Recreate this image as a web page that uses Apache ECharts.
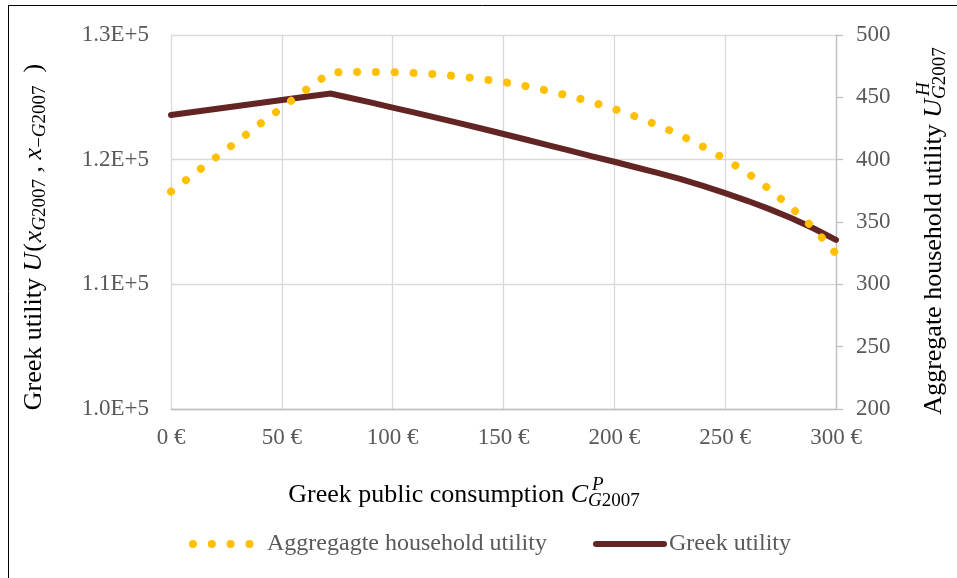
<!DOCTYPE html>
<html>
<head>
<meta charset="utf-8">
<script src="https://cdn.jsdelivr.net/npm/echarts@6/dist/echarts.min.js"></script>
<style>
  html, body { margin: 0; padding: 0; background: #ffffff; }
  #chart { width: 957px; height: 578px; }
</style>
</head>
<body>
<div id="chart"></div>
<script>
// Greek public consumption (EUR) at which both utilities are evaluated
const consumption = [0, 10, 20, 30, 40, 50, 60, 72, 80, 90, 100, 110, 120, 130, 140, 150,
  160, 170, 180, 190, 200, 210, 220, 230, 240, 250, 260, 270, 280, 290, 300];

// Aggregate household utility (right axis)
const householdUtility = [374.4, 388, 401.5, 414.8, 428.5, 441.6, 455, 470, 470.3, 470.4, 470.2,
  469.5, 468.5, 466.8, 464.7, 462.3, 459, 455.3, 451, 446.1, 440.6, 434.3, 427.3, 419.5,
  410.4, 400.4, 389.4, 376.3, 361.3, 344.9, 324.5];

// Greek utility (left axis)
const greekUtility = [123580, 123820, 124060, 124300, 124540, 124780, 125030, 125310, 124990,
  124590, 124180, 123770, 123350, 122930, 122500, 122060, 121620, 121170, 120720, 120270,
  119830, 119370, 118920, 118440, 117900, 117320, 116700, 116030, 115300, 114480, 113560];

// Axis tick values and their labels
const xTickValues = [0, 50, 100, 150, 200, 250, 300];
const xTickLabels = ['0 €', '50 €', '100 €', '150 €', '200 €', '250 €', '300 €'];
const leftTickValues = [100000, 110000, 120000, 130000];
const leftTickLabels = ['1.0E+5', '1.1E+5', '1.2E+5', '1.3E+5'];
const rightTickValues = [200, 250, 300, 350, 400, 450, 500];
const rightTickLabels = ['200', '250', '300', '350', '400', '450', '500'];

const seriesNames = ['Aggregagte household utility', 'Greek utility'];

const SERIF = '"Liberation Serif", "Times New Roman", serif';
const GREY = '#595959';
const GRID = '#d9d9d9';
const AXIS = '#bfbfbf';

function pick(values, labels) {
  return function (v) {
    const i = values.indexOf(v);
    return i >= 0 ? labels[i] : '';
  };
}

// Text measuring for the composed (sub/superscript) axis titles
const measureCtx = document.createElement('canvas').getContext('2d');
function textWidth(t, size, italic) {
  measureCtx.font = (italic ? 'italic ' : '') + size + 'px ' + SERIF;
  return measureCtx.measureText(t).width;
}

// Builds a centred run of text pieces; pieces flagged "stack" do not advance the pen
function mathTitle(pieces, cx, cy, rotation) {
  let x = 0;
  const kids = [];
  pieces.forEach(function (p) {
    kids.push({
      type: 'text',
      x: x + (p.dx || 0),
      y: p.dy || 0,
      style: {
        text: p.t,
        fontSize: p.size,
        fontFamily: SERIF,
        fontStyle: p.italic ? 'italic' : 'normal',
        fill: '#000000',
        align: 'left',
        verticalAlign: 'middle'
      }
    });
    if (!p.stack) x += textWidth(p.t, p.size, p.italic) + (p.after || 0);
  });
  kids.forEach(function (k) { k.x -= x / 2; });
  return { type: 'group', x: cx, y: cy, rotation: rotation || 0, children: kids, silent: true };
}

const TS = 26;   // title size
const SS = 19;   // script size

const xTitle = mathTitle([
  { t: 'Greek public consumption ', size: TS },
  { t: 'C', size: TS, italic: true },
  { t: 'P', size: SS, italic: true, dy: -10, dx: 4, stack: true },
  { t: 'G', size: SS, italic: true, dy: 6 },
  { t: '2007', size: SS, dy: 6 }
], 464, 495, 0);

const leftTitle = mathTitle([
  { t: 'Greek utility ', size: TS },
  { t: 'U', size: TS, italic: true, after: 1 },
  { t: '(', size: TS, after: 1 },
  { t: 'x', size: TS, italic: true },
  { t: 'G', size: SS, italic: true, dy: 6 },
  { t: '2007', size: SS, dy: 6 },
  { t: ' , ', size: TS },
  { t: 'x', size: TS, italic: true },
  { t: '−', size: SS, dy: 6 },
  { t: 'G', size: SS, italic: true, dy: 6 },
  { t: '2007', size: SS, dy: 6 },
  { t: '  )', size: TS }
], 34, 237, Math.PI / 2);

const rightTitle = mathTitle([
  { t: 'Aggregate household utility ', size: TS },
  { t: 'U', size: TS, italic: true },
  { t: 'H', size: SS, italic: true, dy: -10, dx: 3, stack: true },
  { t: 'G', size: SS, italic: true, dy: 6 },
  { t: '2007', size: SS, dy: 6 }
], 934, 231, Math.PI / 2);

const chart = echarts.init(document.getElementById('chart'), null, { renderer: 'canvas' });

const legendText = { color: GREY, fontSize: 24, fontFamily: SERIF };

chart.setOption({
  animation: false,
  backgroundColor: '#ffffff',
  grid: { left: 171, right: 121, top: 35, bottom: 169, containLabel: false },
  xAxis: {
    type: 'value',
    min: 0, max: 300, interval: 50,
    axisLine: { show: true, lineStyle: { color: AXIS, width: 1.3 } },
    axisTick: { show: false },
    axisLabel: { formatter: pick(xTickValues, xTickLabels), color: GREY, fontSize: 23, fontFamily: SERIF, margin: 17 },
    splitLine: { show: true, lineStyle: { color: GRID, width: 1.3 } }
  },
  yAxis: [
    {
      type: 'value', position: 'left',
      min: 100000, max: 130000, interval: 10000,
      axisLine: { show: false }, axisTick: { show: false },
      axisLabel: { formatter: pick(leftTickValues, leftTickLabels), color: GREY, fontSize: 23, fontFamily: SERIF, margin: 22 },
      splitLine: { show: true, lineStyle: { color: GRID, width: 1.3 } }
    },
    {
      type: 'value', position: 'right',
      min: 200, max: 500, interval: 50,
      axisLine: { show: true, lineStyle: { color: AXIS, width: 1.3 } },
      axisTick: { show: true, inside: false, length: 7, lineStyle: { color: AXIS, width: 1.3 } },
      axisLabel: { formatter: pick(rightTickValues, rightTickLabels), color: GREY, fontSize: 23, fontFamily: SERIF, margin: 20 },
      splitLine: { show: false }
    }
  ],
  legend: [
    {
      data: [seriesNames[0]], left: 189, top: 532, padding: 0,
      itemWidth: 57, itemHeight: 8,
      lineStyle: { width: 8 },
      itemStyle: { opacity: 0 },
      textStyle: Object.assign({ padding: [0, 0, 0, 12] }, legendText),
      selectedMode: false
    },
    {
      data: [seriesNames[1]], left: 593, top: 532, padding: 0,
      itemWidth: 68, itemHeight: 8,
      lineStyle: { width: 6 },
      itemStyle: { opacity: 0 },
      textStyle: Object.assign({ padding: [0, 0, 0, 0] }, legendText),
      selectedMode: false
    }
  ],
  series: [
    {
      name: seriesNames[1],
      type: 'line',
      yAxisIndex: 0,
      data: consumption.map(function (c, i) { return [c, greekUtility[i]]; }),
      showSymbol: false, symbol: 'none',
      lineStyle: { color: '#632523', width: 6, cap: 'round', join: 'miter' },
      itemStyle: { color: '#632523' },
      z: 2
    },
    {
      name: seriesNames[0],
      type: 'line',
      yAxisIndex: 1,
      data: consumption.map(function (c, i) { return [c, householdUtility[i]]; }),
      showSymbol: false, symbol: 'none',
      lineStyle: { color: '#FFC000', width: 8, type: [0.01, 18.8], cap: 'round' },
      itemStyle: { color: '#FFC000' },
      z: 3
    }
  ],
  graphic: [
    { type: 'line', shape: { x1: 8, y1: 5.5, x2: 957, y2: 5.5 }, style: { stroke: '#000000', lineWidth: 1 }, silent: true },
    { type: 'line', shape: { x1: 8.5, y1: 5, x2: 8.5, y2: 578 }, style: { stroke: '#000000', lineWidth: 1 }, silent: true },
    xTitle, leftTitle, rightTitle
  ]
});
</script>
</body>
</html>
